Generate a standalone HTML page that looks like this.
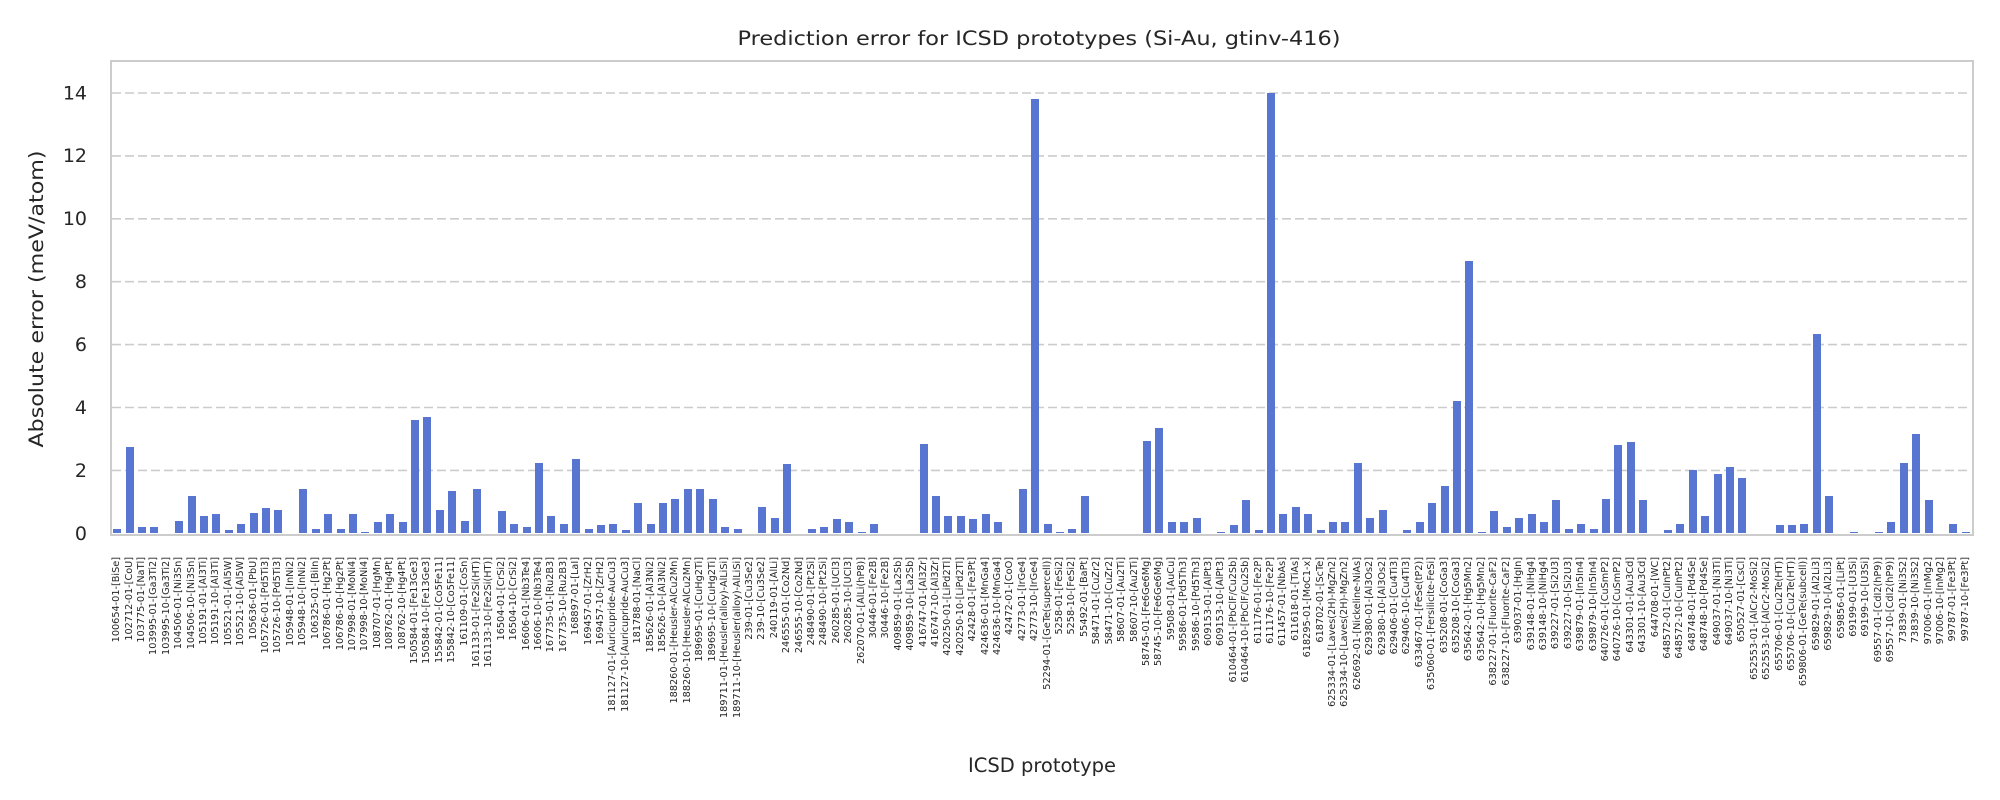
<!DOCTYPE html>
<html><head><meta charset="utf-8"><style>
html,body{margin:0;padding:0;background:#fff;}
#w{position:relative;width:2000px;height:800px;overflow:hidden;font-family:"DejaVu Sans","Liberation Sans",sans-serif;color:#262626;}
svg{position:absolute;left:0;top:0;}
#frame{position:absolute;left:110px;top:60px;width:1864px;height:476px;border:2.5px solid #cccccc;box-sizing:border-box;}
#cols{position:absolute;left:111px;top:0;width:1861px;height:533.3px;display:flex;}
.c{flex:1;position:relative;height:100%;display:flex;align-items:flex-end;justify-content:center;}
.c i{display:block;width:8px;height:calc(var(--v)*31.45px);background:#5875d1;}
.c b{position:absolute;top:557px;left:50%;font-weight:normal;font-size:9.7px;line-height:1;white-space:nowrap;writing-mode:vertical-rl;transform:translateX(-50%) rotate(180deg);color:#262626;}
</style></head><body><div id="w">
<svg width="2000" height="800">
<g stroke="#cccccc" stroke-width="1.6" stroke-dasharray="9,4">
<line x1="112" x2="1971" y1="470.4" y2="470.4"/>
<line x1="112" x2="1971" y1="407.5" y2="407.5"/>
<line x1="112" x2="1971" y1="344.6" y2="344.6"/>
<line x1="112" x2="1971" y1="281.7" y2="281.7"/>
<line x1="112" x2="1971" y1="218.8" y2="218.8"/>
<line x1="112" x2="1971" y1="155.9" y2="155.9"/>
<line x1="112" x2="1971" y1="93.0" y2="93.0"/>
</g>
<g font-size="19" text-anchor="end" fill="#262626">
<text x="87" y="540">0</text>
<text x="87" y="477">2</text>
<text x="87" y="414">4</text>
<text x="87" y="351">6</text>
<text x="87" y="288">8</text>
<text x="87" y="225">10</text>
<text x="87" y="162">12</text>
<text x="87" y="99.5">14</text>
</g>
<text x="1039" y="45" font-size="19.5" text-anchor="middle" fill="#262626" textLength="603" lengthAdjust="spacingAndGlyphs">Prediction error for ICSD prototypes (Si-Au, gtinv-416)</text>
<text transform="translate(43,299) rotate(-90)" font-size="19.5" text-anchor="middle" fill="#262626" textLength="297" lengthAdjust="spacingAndGlyphs">Absolute error (meV/atom)</text>
<text x="1042" y="772" font-size="19.5" text-anchor="middle" fill="#262626">ICSD prototype</text>
</svg>
<div id="frame"></div>
<div id="cols">
<div class="c" style="--v:0.15"><i></i><b>100654-01-[BiSe]</b></div>
<div class="c" style="--v:2.75"><i></i><b>102712-01-[CoU]</b></div>
<div class="c" style="--v:0.2"><i></i><b>103775-01-[NaTl]</b></div>
<div class="c" style="--v:0.2"><i></i><b>103995-01-[Ga3Ti2]</b></div>
<div class="c" style="--v:0"><i></i><b>103995-10-[Ga3Ti2]</b></div>
<div class="c" style="--v:0.4"><i></i><b>104506-01-[Ni3Sn]</b></div>
<div class="c" style="--v:1.2"><i></i><b>104506-10-[Ni3Sn]</b></div>
<div class="c" style="--v:0.55"><i></i><b>105191-01-[Al3Ti]</b></div>
<div class="c" style="--v:0.6"><i></i><b>105191-10-[Al3Ti]</b></div>
<div class="c" style="--v:0.1"><i></i><b>105521-01-[Al5W]</b></div>
<div class="c" style="--v:0.3"><i></i><b>105521-10-[Al5W]</b></div>
<div class="c" style="--v:0.65"><i></i><b>105636-01-[PbU]</b></div>
<div class="c" style="--v:0.8"><i></i><b>105726-01-[Pd5Ti3]</b></div>
<div class="c" style="--v:0.75"><i></i><b>105726-10-[Pd5Ti3]</b></div>
<div class="c" style="--v:0"><i></i><b>105948-01-[InNi2]</b></div>
<div class="c" style="--v:1.4"><i></i><b>105948-10-[InNi2]</b></div>
<div class="c" style="--v:0.15"><i></i><b>106325-01-[BiIn]</b></div>
<div class="c" style="--v:0.6"><i></i><b>106786-01-[Hg2Pt]</b></div>
<div class="c" style="--v:0.15"><i></i><b>106786-10-[Hg2Pt]</b></div>
<div class="c" style="--v:0.6"><i></i><b>107998-01-[MoNi4]</b></div>
<div class="c" style="--v:0.05"><i></i><b>107998-10-[MoNi4]</b></div>
<div class="c" style="--v:0.35"><i></i><b>108707-01-[HgMn]</b></div>
<div class="c" style="--v:0.6"><i></i><b>108762-01-[Hg4Pt]</b></div>
<div class="c" style="--v:0.35"><i></i><b>108762-10-[Hg4Pt]</b></div>
<div class="c" style="--v:3.6"><i></i><b>150584-01-[Fe13Ge3]</b></div>
<div class="c" style="--v:3.7"><i></i><b>150584-10-[Fe13Ge3]</b></div>
<div class="c" style="--v:0.75"><i></i><b>155842-01-[Co5Fe11]</b></div>
<div class="c" style="--v:1.35"><i></i><b>155842-10-[Co5Fe11]</b></div>
<div class="c" style="--v:0.4"><i></i><b>161109-01-[CoSn]</b></div>
<div class="c" style="--v:1.4"><i></i><b>161133-01-[Fe2Si(HT)]</b></div>
<div class="c" style="--v:0"><i></i><b>161133-10-[Fe2Si(HT)]</b></div>
<div class="c" style="--v:0.7"><i></i><b>16504-01-[CrSi2]</b></div>
<div class="c" style="--v:0.3"><i></i><b>16504-10-[CrSi2]</b></div>
<div class="c" style="--v:0.2"><i></i><b>16606-01-[Nb3Te4]</b></div>
<div class="c" style="--v:2.25"><i></i><b>16606-10-[Nb3Te4]</b></div>
<div class="c" style="--v:0.55"><i></i><b>167735-01-[Ru2B3]</b></div>
<div class="c" style="--v:0.3"><i></i><b>167735-10-[Ru2B3]</b></div>
<div class="c" style="--v:2.35"><i></i><b>168897-01-[LaI]</b></div>
<div class="c" style="--v:0.15"><i></i><b>169457-01-[ZrH2]</b></div>
<div class="c" style="--v:0.25"><i></i><b>169457-10-[ZrH2]</b></div>
<div class="c" style="--v:0.3"><i></i><b>181127-01-[Auricupride-AuCu3]</b></div>
<div class="c" style="--v:0.1"><i></i><b>181127-10-[Auricupride-AuCu3]</b></div>
<div class="c" style="--v:0.95"><i></i><b>181788-01-[NaCl]</b></div>
<div class="c" style="--v:0.3"><i></i><b>185626-01-[Al3Ni2]</b></div>
<div class="c" style="--v:0.95"><i></i><b>185626-10-[Al3Ni2]</b></div>
<div class="c" style="--v:1.1"><i></i><b>188260-01-[Heusler-AlCu2Mn]</b></div>
<div class="c" style="--v:1.4"><i></i><b>188260-10-[Heusler-AlCu2Mn]</b></div>
<div class="c" style="--v:1.4"><i></i><b>189695-01-[CuHg2Ti]</b></div>
<div class="c" style="--v:1.1"><i></i><b>189695-10-[CuHg2Ti]</b></div>
<div class="c" style="--v:0.2"><i></i><b>189711-01-[Heusler(alloy)-AlLiSi]</b></div>
<div class="c" style="--v:0.15"><i></i><b>189711-10-[Heusler(alloy)-AlLiSi]</b></div>
<div class="c" style="--v:0"><i></i><b>239-01-[Cu3Se2]</b></div>
<div class="c" style="--v:0.85"><i></i><b>239-10-[Cu3Se2]</b></div>
<div class="c" style="--v:0.5"><i></i><b>240119-01-[AlLi]</b></div>
<div class="c" style="--v:2.2"><i></i><b>246555-01-[Co2Nd]</b></div>
<div class="c" style="--v:0"><i></i><b>246555-10-[Co2Nd]</b></div>
<div class="c" style="--v:0.15"><i></i><b>248490-01-[Pt2Si]</b></div>
<div class="c" style="--v:0.2"><i></i><b>248490-10-[Pt2Si]</b></div>
<div class="c" style="--v:0.45"><i></i><b>260285-01-[UCl3]</b></div>
<div class="c" style="--v:0.35"><i></i><b>260285-10-[UCl3]</b></div>
<div class="c" style="--v:0.05"><i></i><b>262070-01-[AlLi(hP8)]</b></div>
<div class="c" style="--v:0.3"><i></i><b>30446-01-[Fe2B]</b></div>
<div class="c" style="--v:0"><i></i><b>30446-10-[Fe2B]</b></div>
<div class="c" style="--v:0"><i></i><b>409859-01-[La2Sb]</b></div>
<div class="c" style="--v:0"><i></i><b>409859-10-[La2Sb]</b></div>
<div class="c" style="--v:2.85"><i></i><b>416747-01-[Al3Zr]</b></div>
<div class="c" style="--v:1.2"><i></i><b>416747-10-[Al3Zr]</b></div>
<div class="c" style="--v:0.55"><i></i><b>420250-01-[LiPd2Tl]</b></div>
<div class="c" style="--v:0.55"><i></i><b>420250-10-[LiPd2Tl]</b></div>
<div class="c" style="--v:0.45"><i></i><b>42428-01-[Fe3Pt]</b></div>
<div class="c" style="--v:0.6"><i></i><b>424636-01-[MnGa4]</b></div>
<div class="c" style="--v:0.35"><i></i><b>424636-10-[MnGa4]</b></div>
<div class="c" style="--v:0"><i></i><b>42472-01-[CoO]</b></div>
<div class="c" style="--v:1.4"><i></i><b>42773-01-[IrGe4]</b></div>
<div class="c" style="--v:13.8"><i></i><b>42773-10-[IrGe4]</b></div>
<div class="c" style="--v:0.3"><i></i><b>52294-01-[GeTe(supercell)]</b></div>
<div class="c" style="--v:0.05"><i></i><b>5258-01-[FeSi2]</b></div>
<div class="c" style="--v:0.15"><i></i><b>5258-10-[FeSi2]</b></div>
<div class="c" style="--v:1.2"><i></i><b>55492-01-[BaPt]</b></div>
<div class="c" style="--v:0"><i></i><b>58471-01-[CuZr2]</b></div>
<div class="c" style="--v:0"><i></i><b>58471-10-[CuZr2]</b></div>
<div class="c" style="--v:0"><i></i><b>58607-01-[Au2Ti]</b></div>
<div class="c" style="--v:0"><i></i><b>58607-10-[Au2Ti]</b></div>
<div class="c" style="--v:2.95"><i></i><b>58745-01-[Fe6Ge6Mg]</b></div>
<div class="c" style="--v:3.35"><i></i><b>58745-10-[Fe6Ge6Mg]</b></div>
<div class="c" style="--v:0.35"><i></i><b>59508-01-[AuCu]</b></div>
<div class="c" style="--v:0.35"><i></i><b>59586-01-[Pd5Th3]</b></div>
<div class="c" style="--v:0.5"><i></i><b>59586-10-[Pd5Th3]</b></div>
<div class="c" style="--v:0"><i></i><b>609153-01-[AlPt3]</b></div>
<div class="c" style="--v:0.05"><i></i><b>609153-10-[AlPt3]</b></div>
<div class="c" style="--v:0.25"><i></i><b>610464-01-[PbClF/Cu2Sb]</b></div>
<div class="c" style="--v:1.05"><i></i><b>610464-10-[PbClF/Cu2Sb]</b></div>
<div class="c" style="--v:0.1"><i></i><b>611176-01-[Fe2P]</b></div>
<div class="c" style="--v:14.0"><i></i><b>611176-10-[Fe2P]</b></div>
<div class="c" style="--v:0.6"><i></i><b>611457-01-[NbAs]</b></div>
<div class="c" style="--v:0.85"><i></i><b>611618-01-[TiAs]</b></div>
<div class="c" style="--v:0.6"><i></i><b>618295-01-[MoC1-x]</b></div>
<div class="c" style="--v:0.1"><i></i><b>618702-01-[ScTe]</b></div>
<div class="c" style="--v:0.35"><i></i><b>625334-01-[Laves(2H)-MgZn2]</b></div>
<div class="c" style="--v:0.35"><i></i><b>625334-10-[Laves(2H)-MgZn2]</b></div>
<div class="c" style="--v:2.25"><i></i><b>626692-01-[Nickeline-NiAs]</b></div>
<div class="c" style="--v:0.5"><i></i><b>629380-01-[Al3Os2]</b></div>
<div class="c" style="--v:0.75"><i></i><b>629380-10-[Al3Os2]</b></div>
<div class="c" style="--v:0"><i></i><b>629406-01-[Cu4Ti3]</b></div>
<div class="c" style="--v:0.1"><i></i><b>629406-10-[Cu4Ti3]</b></div>
<div class="c" style="--v:0.35"><i></i><b>633467-01-[FeSe(tP2)]</b></div>
<div class="c" style="--v:0.95"><i></i><b>635060-01-[Fersilicite-FeSi]</b></div>
<div class="c" style="--v:1.5"><i></i><b>635208-01-[CoGa3]</b></div>
<div class="c" style="--v:4.2"><i></i><b>635208-10-[CoGa3]</b></div>
<div class="c" style="--v:8.65"><i></i><b>635642-01-[Hg5Mn2]</b></div>
<div class="c" style="--v:0.05"><i></i><b>635642-10-[Hg5Mn2]</b></div>
<div class="c" style="--v:0.7"><i></i><b>638227-01-[Fluorite-CaF2]</b></div>
<div class="c" style="--v:0.2"><i></i><b>638227-10-[Fluorite-CaF2]</b></div>
<div class="c" style="--v:0.5"><i></i><b>639037-01-[HgIn]</b></div>
<div class="c" style="--v:0.6"><i></i><b>639148-01-[NiHg4]</b></div>
<div class="c" style="--v:0.35"><i></i><b>639148-10-[NiHg4]</b></div>
<div class="c" style="--v:1.05"><i></i><b>639227-01-[Si2U3]</b></div>
<div class="c" style="--v:0.15"><i></i><b>639227-10-[Si2U3]</b></div>
<div class="c" style="--v:0.3"><i></i><b>639879-01-[In5In4]</b></div>
<div class="c" style="--v:0.15"><i></i><b>639879-10-[In5In4]</b></div>
<div class="c" style="--v:1.1"><i></i><b>640726-01-[CuSmP2]</b></div>
<div class="c" style="--v:2.8"><i></i><b>640726-10-[CuSmP2]</b></div>
<div class="c" style="--v:2.9"><i></i><b>643301-01-[Au3Cd]</b></div>
<div class="c" style="--v:1.05"><i></i><b>643301-10-[Au3Cd]</b></div>
<div class="c" style="--v:0"><i></i><b>644708-01-[WC]</b></div>
<div class="c" style="--v:0.1"><i></i><b>648572-01-[CuInPt2]</b></div>
<div class="c" style="--v:0.3"><i></i><b>648572-10-[CuInPt2]</b></div>
<div class="c" style="--v:2.0"><i></i><b>648748-01-[Pd4Se]</b></div>
<div class="c" style="--v:0.55"><i></i><b>648748-10-[Pd4Se]</b></div>
<div class="c" style="--v:1.9"><i></i><b>649037-01-[Ni3Ti]</b></div>
<div class="c" style="--v:2.1"><i></i><b>649037-10-[Ni3Ti]</b></div>
<div class="c" style="--v:1.75"><i></i><b>650527-01-[CsCl]</b></div>
<div class="c" style="--v:0"><i></i><b>652553-01-[AlCr2-MoSi2]</b></div>
<div class="c" style="--v:0"><i></i><b>652553-10-[AlCr2-MoSi2]</b></div>
<div class="c" style="--v:0.25"><i></i><b>655706-01-[Cu2Te(HT)]</b></div>
<div class="c" style="--v:0.25"><i></i><b>655706-10-[Cu2Te(HT)]</b></div>
<div class="c" style="--v:0.3"><i></i><b>659806-01-[GeTe(subcell)]</b></div>
<div class="c" style="--v:6.35"><i></i><b>659829-01-[Al2Li3]</b></div>
<div class="c" style="--v:1.2"><i></i><b>659829-10-[Al2Li3]</b></div>
<div class="c" style="--v:0"><i></i><b>659856-01-[LiPt]</b></div>
<div class="c" style="--v:0.05"><i></i><b>69199-01-[U3Si]</b></div>
<div class="c" style="--v:0"><i></i><b>69199-10-[U3Si]</b></div>
<div class="c" style="--v:0.05"><i></i><b>69557-01-[CdI2(hP9)]</b></div>
<div class="c" style="--v:0.35"><i></i><b>69557-10-[CdI2(hP9)]</b></div>
<div class="c" style="--v:2.25"><i></i><b>73839-01-[Ni3S2]</b></div>
<div class="c" style="--v:3.15"><i></i><b>73839-10-[Ni3S2]</b></div>
<div class="c" style="--v:1.05"><i></i><b>97006-01-[InMg2]</b></div>
<div class="c" style="--v:0"><i></i><b>97006-10-[InMg2]</b></div>
<div class="c" style="--v:0.3"><i></i><b>99787-01-[Fe3Pt]</b></div>
<div class="c" style="--v:0.05"><i></i><b>99787-10-[Fe3Pt]</b></div>
</div>
</div></body></html>
